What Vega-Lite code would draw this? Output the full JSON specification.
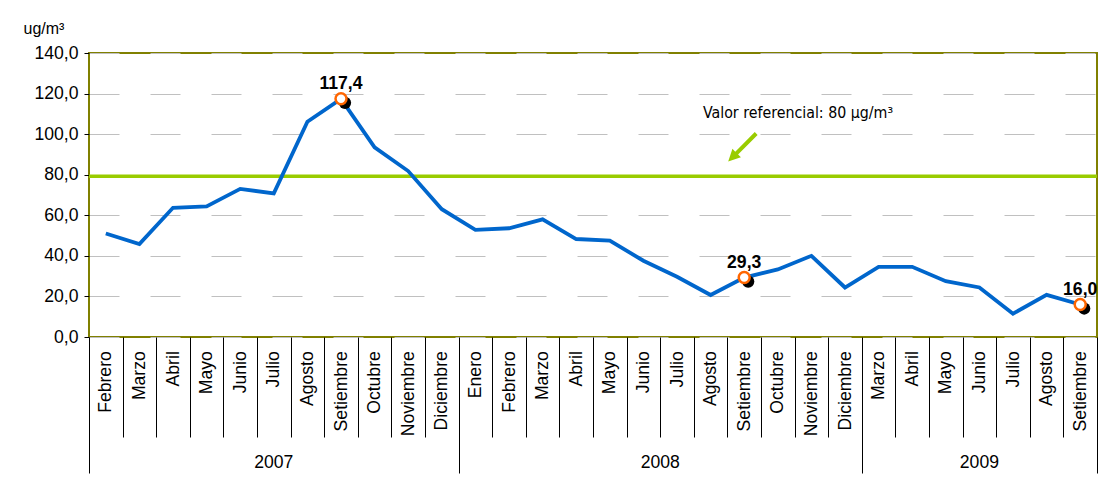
{
  "$schema": "https://vega.github.io/schema/vega-lite/v6.json",
  "width": 1008,
  "height": 284,
  "autosize": "none",
  "padding": {"left": 89, "top": 53, "right": 23, "bottom": 157},
  "background": "white",
  "config": {
    "font": "Liberation Sans",
    "view": {"stroke": "#808000", "strokeWidth": 2},
    "locale": {"number": {"decimal": ",", "thousands": ".", "grouping": [3], "currency": ["", ""]}}
  },
  "data": {
    "values": [
      {"periodo": "2007-02", "valor": 51.0},
      {"periodo": "2007-03", "valor": 45.8},
      {"periodo": "2007-04", "valor": 63.7},
      {"periodo": "2007-05", "valor": 64.4},
      {"periodo": "2007-06", "valor": 73.0},
      {"periodo": "2007-07", "valor": 70.8},
      {"periodo": "2007-08", "valor": 106.1},
      {"periodo": "2007-09", "valor": 117.4},
      {"periodo": "2007-10", "valor": 93.5},
      {"periodo": "2007-11", "valor": 81.8},
      {"periodo": "2007-12", "valor": 63.0},
      {"periodo": "2008-01", "valor": 52.8},
      {"periodo": "2008-02", "valor": 53.6},
      {"periodo": "2008-03", "valor": 58.0},
      {"periodo": "2008-04", "valor": 48.3},
      {"periodo": "2008-05", "valor": 47.5},
      {"periodo": "2008-06", "valor": 37.6},
      {"periodo": "2008-07", "valor": 29.7},
      {"periodo": "2008-08", "valor": 20.7},
      {"periodo": "2008-09", "valor": 29.3},
      {"periodo": "2008-10", "valor": 33.3},
      {"periodo": "2008-11", "valor": 40.0},
      {"periodo": "2008-12", "valor": 24.4},
      {"periodo": "2009-03", "valor": 34.6},
      {"periodo": "2009-04", "valor": 34.6},
      {"periodo": "2009-05", "valor": 27.5},
      {"periodo": "2009-06", "valor": 24.4},
      {"periodo": "2009-07", "valor": 11.5},
      {"periodo": "2009-08", "valor": 20.8},
      {"periodo": "2009-09", "valor": 16.0}
    ]
  },
  "resolve": {"axis": {"x": "independent"}},
  "layer": [
    {
      "data": {"values": [{"valor": 79.2}]},
      "mark": {"type": "rule", "color": "#99cc00", "strokeWidth": 3.5},
      "encoding": {
        "y": {"field": "valor", "type": "quantitative", "scale": {"domain": [0, 140], "nice": false}}
      }
    },
    {
      "mark": {"type": "line", "color": "#0066cc", "strokeWidth": 3.8},
      "encoding": {
        "x": {
          "field": "periodo", "type": "nominal",
          "scale": {"paddingInner": 0, "paddingOuter": 0},
          "axis": {
            "orient": "bottom",
            "title": null, "domain": false, "grid": false,
            "tickBand": "extent", "tickColor": "black", "tickWidth": 1,
            "tickSize": {"condition": {"test": "datum.extra || indexof(['2007-12','2008-12','2009-09'], datum.value) >= 0", "value": 136}, "value": 100},
            "labelPadding": {"condition": {"test": "indexof(['2007-12','2008-12','2009-09'], datum.value) >= 0", "value": -122.3}, "value": -86.3},
            "labelAngle": -90, "labelAlign": "right", "labelBaseline": "middle",
            "labelExpr": "['Enero','Febrero','Marzo','Abril','Mayo','Junio','Julio','Agosto','Setiembre','Octubre','Noviembre','Diciembre'][toNumber(substring(datum.value,5,7))-1]",
            "labelFontSize": 17.6, "labelColor": "black", "labelFont": "Liberation Sans",
            "labelOverlap": false, "labelFlush": false, "labelBound": false
          }
        },
        "y": {
          "field": "valor", "type": "quantitative",
          "scale": {"domain": [0, 140], "nice": false},
          "axis": {
            "values": [0, 20, 40, 60, 80, 100, 120, 140],
            "format": ".1f",
            "domain": false,
            "tickSize": 5, "tickColor": "black",
            "labelPadding": 6, "labelFontSize": 17.6, "labelColor": "black", "labelFont": "Liberation Sans",
            "grid": true, "gridColor": "#c0c0c0", "gridDash": [30, 31], "gridWidth": 1,
            "title": "ug/m³", "titleAngle": 0, "titleX": -66, "titleY": -20,
            "titleAlign": "left", "titleBaseline": "alphabetic",
            "titleFontSize": 16, "titleFontWeight": "normal", "titleColor": "black", "titleFont": "Liberation Sans"
          }
        }
      }
    },
    {
      "transform": [{"filter": {"field": "periodo", "oneOf": ["2007-09", "2008-09", "2009-09"]}}],
      "mark": {"type": "point", "filled": true, "color": "black", "size": 150, "xOffset": 4, "yOffset": 4, "opacity": 1},
      "encoding": {
        "x": {
          "field": "periodo", "type": "nominal",
          "axis": {
            "orient": "bottom",
            "values": ["2007-07", "2008-07", "2009-06"],
            "title": null, "domain": false, "grid": false, "ticks": false, "tickSize": 0,
            "labelExpr": "substring(datum.value,0,4)",
            "labelAngle": 0, "labelAlign": "center", "labelBaseline": "middle",
            "labelPadding": 125,
            "labelOffset": {"condition": {"test": "datum.value == '2008-07'", "value": -16.8}, "value": 0},
            "labelFontSize": 17.6, "labelColor": "black", "labelFont": "Liberation Sans",
            "labelOverlap": false, "labelFlush": false, "labelBound": false
          }
        },
        "y": {"field": "valor", "type": "quantitative"}
      }
    },
    {
      "transform": [{"filter": {"field": "periodo", "oneOf": ["2007-09", "2008-09", "2009-09"]}}],
      "mark": {"type": "point", "filled": true, "fill": "white", "stroke": "#ff6600", "strokeWidth": 2.5, "size": 120, "opacity": 1},
      "encoding": {
        "x": {"field": "periodo", "type": "nominal", "axis": null},
        "y": {"field": "valor", "type": "quantitative"}
      }
    },
    {
      "transform": [{"filter": {"field": "periodo", "oneOf": ["2007-09", "2008-09", "2009-09"]}}],
      "mark": {"type": "text", "fontWeight": "bold", "fontSize": 17.6, "color": "black", "baseline": "alphabetic", "align": "center", "dy": -10, "font": "Liberation Sans"},
      "encoding": {
        "x": {"field": "periodo", "type": "nominal", "axis": null},
        "y": {"field": "valor", "type": "quantitative"},
        "text": {"field": "valor", "type": "quantitative", "format": ".1f"}
      }
    },
    {
      "data": {"values": [{"periodo": "2008-08", "valor": 108.1, "texto": "Valor referencial: 80 µg/m³"}]},
      "mark": {"type": "text", "fontSize": 15.8, "font": "DejaVu Sans Condensed, Liberation Sans", "color": "black", "align": "left", "baseline": "alphabetic", "dx": -7.6},
      "encoding": {
        "x": {"field": "periodo", "type": "nominal", "axis": null},
        "y": {"field": "valor", "type": "quantitative"},
        "text": {"field": "texto", "type": "nominal"}
      }
    },
    {
      "data": {"values": [{"periodo": "2008-09", "valor": 93.4}]},
      "mark": {
        "type": "point", "filled": true, "fill": "#99cc00", "strokeWidth": 0, "opacity": 1, "size": 1600, "xOffset": -2,
        "shape": "M0.771,-0.629 L0.629,-0.771 L-0.347,0.205 L-0.488,0.064 L-0.7,0.7 L-0.064,0.488 L-0.205,0.347 Z"
      },
      "encoding": {
        "x": {"field": "periodo", "type": "nominal", "axis": null},
        "y": {"field": "valor", "type": "quantitative"}
      }
    }
  ]
}
